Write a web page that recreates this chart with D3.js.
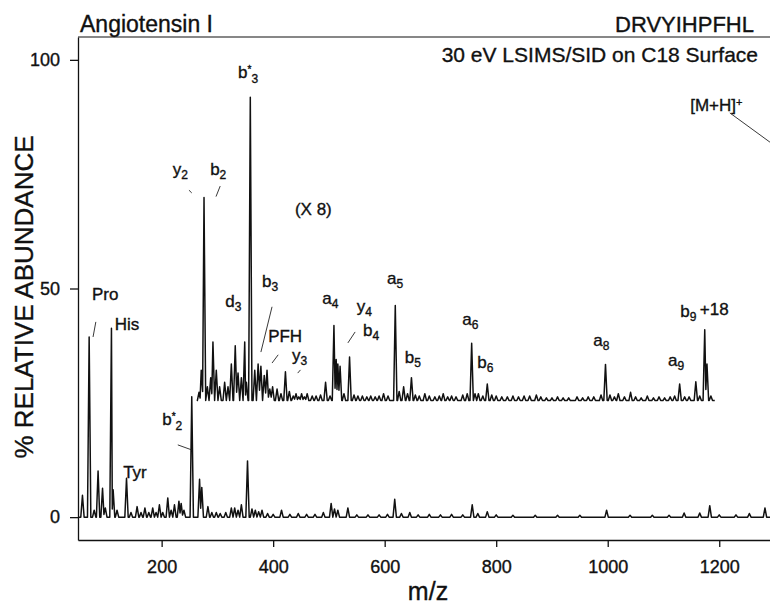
<!DOCTYPE html>
<html>
<head>
<meta charset="utf-8">
<script src="https://cdn.jsdelivr.net/npm/d3@7"></script>
<style>
  body { margin: 0; background: #fff; }
  svg text { font-family: "Liberation Sans", Arial, Helvetica, sans-serif; fill: #111; stroke: #111; stroke-width: 0.35px; }
</style>
</head>
<body>
<div id="chart"></div>
<script>
// lower trace, full scale: m/z and % relative abundance
const lowerMz = [58, 70, 79, 86, 94, 99, 110, 113, 120, 137, 145, 156, 163, 170, 177, 184, 190, 196, 202, 211, 217, 223, 231, 235, 240,
  254, 268, 272, 283, 290, 298, 305, 315, 325, 331, 337, 343, 354, 362, 368, 374, 380, 390, 400, 415, 430, 445, 460, 475, 490,
  504, 510, 516, 534, 550, 570, 590, 605, 618, 630, 645, 660, 680, 700, 720, 740, 757, 767, 784, 800, 830, 870, 910, 950,
  998, 1040, 1080, 1110, 1137, 1165, 1183, 1200, 1230, 1254, 1282];
const lowerInt = [4.8, 39.4, 1.5, 10.1, 6.3, 2, 41.3, 6, 1.5, 8.5, 1, 2.3, 1, 2, 1, 2, 1, 2.7, 1, 4.2, 1.5, 2.7, 3.5, 3, 1.5,
  26.3, 8.3, 6.5, 2.3, 1, 1, 0.8, 1, 2, 2, 1.5, 2.7, 12.3, 1.8, 1.5, 1.2, 1.5, 0.8, 0.6, 1.5, 0.6, 0.8, 0.6, 0.6, 1,
  3, 1.8, 1.5, 2, 0.5, 0.5, 0.5, 0.6, 3.9, 0.8, 1, 0.5, 0.6, 0.5, 0.6, 0.5, 2.7, 0.8, 1.2, 0.5, 0.4, 0.4, 0.4, 0.4,
  1.5, 0.4, 0.4, 0.4, 0.9, 0.9, 2.5, 0.5, 0.5, 0.8, 2];

// upper trace (X 8), heights above its own baseline
const upperBase = 25.5;
const upperRange = [265, 1192];
const upperMz = [267, 271, 276, 282, 288, 292, 298, 304, 313, 319, 325, 332, 337, 343, 349, 352, 359, 367, 373, 378, 384, 389, 394, 399,
  407, 414, 422, 429, 436, 441, 446, 451, 456, 461, 470, 477, 485, 494, 502, 509, 513, 516, 520, 527, 537, 545, 552, 560, 568,
  575, 583, 590, 598, 606, 619, 626, 634, 641, 648, 655, 662, 672, 680, 690, 698, 705, 713, 720, 728, 740, 748, 756, 762, 768,
  776, 784, 792, 800, 810, 820, 830, 840, 850, 860, 872, 880, 890, 900, 910, 920, 930, 945, 955, 965, 975, 988, 996, 1004,
  1012, 1019, 1030, 1041, 1050, 1060, 1071, 1082, 1092, 1102, 1112, 1120, 1129, 1138, 1146, 1158, 1165, 1174, 1178, 1185];
const upperInt = [1.8, 6.6, 44.4, 3, 5, 12.8, 6.6, 3, 4, 3, 8, 12, 6, 5, 12.8, 4, 66.3, 6.6, 8, 7.5, 5.5, 6.6, 2.5, 3,
  2.5, 1.5, 6.3, 2, 1, 1.5, 0.8, 1.5, 0.8, 1.5, 1, 1, 1.2, 4, 1, 16.4, 9, 8, 7.5, 1.5, 9.5, 1.2, 1, 1, 0.8,
  1, 0.8, 1, 1.5, 1, 20.8, 2, 3, 1.5, 5, 1.2, 1, 1.5, 1, 0.8, 1, 1.5, 0.8, 1, 0.8, 1.2, 1.5, 12.5, 1.5, 1.5,
  1, 3.6, 1.2, 1, 0.8, 0.8, 1, 0.8, 1, 1, 1.2, 0.8, 0.6, 0.6, 0.8, 0.6, 0.6, 0.8, 0.6, 0.8, 0.8, 1.2, 7.9, 1.2,
  0.8, 1.5, 0.8, 1.8, 0.8, 0.6, 1, 0.6, 0.8, 0.6, 0.8, 1, 3.6, 0.8, 0.8, 4.1, 1, 15.5, 8, 1];

const xTicks = [200, 400, 600, 800, 1000, 1200];
const yTicks = [0, 50, 100];

// peak annotations: text, subscript, anchor (m/z, %)
const peakLabels = [
  { t: 'Pro', mz: 75, v: 47.5 },
  { t: 'His', mz: 116, v: 40.9 },
  { t: 'Tyr', mz: 131, v: 8.6 },
  { t: 'b', sub: '2', star: true, mz: 201, v: 20.1 },
  { t: 'y', sub: '2', mz: 220, v: 74.8 },
  { t: 'b', sub: '2', mz: 287, v: 74.8 },
  { t: 'b', sub: '3', star: true, mz: 337, v: 96.0 },
  { t: '(X 8)', mz: 439, v: 66.1 },
  { t: 'd', sub: '3', mz: 314, v: 46.0 },
  { t: 'b', sub: '3', mz: 380, v: 50.3 },
  { t: 'PFH', mz: 391, v: 38.2 },
  { t: 'y', sub: '3', mz: 434, v: 34.2 },
  { t: 'a', sub: '4', mz: 488, v: 46.6 },
  { t: 'y', sub: '4', mz: 550, v: 44.9 },
  { t: 'b', sub: '4', mz: 561, v: 39.6 },
  { t: 'a', sub: '5', mz: 604, v: 51.0 },
  { t: 'b', sub: '5', mz: 636, v: 33.7 },
  { t: 'a', sub: '6', mz: 739, v: 42.0 },
  { t: 'b', sub: '6', mz: 766, v: 32.6 },
  { t: 'a', sub: '8', mz: 974, v: 37.4 },
  { t: 'a', sub: '9', mz: 1108, v: 33.0 },
  { t: 'b', sub: '9', tail: '+18', mz: 1130, v: 43.8 },
  { t: '[M+H]', sup: '+', mz: 1148, v: 88.8 }
];

// leader lines: m/z1, %1, m/z2, %2
const leaders = [
  [82, 42.7, 77, 39.4],
  [305, 72.4, 297.5, 70.1],
  [249, 71.5, 254, 70.9],
  [229, 15.8, 254, 14.7],
  [398, 46.0, 378, 36.1],
  [409, 35.5, 398, 33.7],
  [449, 32.2, 444, 31.5],
  [547, 40.5, 534, 38.1],
  [1219, 88.4, 1291, 82.0]
];

const width = 770;
const height = 604;

const x = d3.scaleLinear().domain([50, 1300]).range([78, 775]);
const y = d3.scaleLinear().domain([-5, 105]).range([540, 37]);

const svg = d3.select('#chart').append('svg')
  .attr('width', width)
  .attr('height', height);

/* build a stick-like profile from the peak table */
function profile(mzs, ints, start, end, base) {
  const hw = 3;
  const pts = [[start, base]];
  for (let i = 0; i < mzs.length; i++) {
    const m = mzs[i];
    const h = ints[i];
    let left = m - hw;
    let lv = base;
    if (i > 0 && mzs[i - 1] + hw > left) {
      left = (mzs[i - 1] + m) / 2;
      lv = base + Math.min(ints[i - 1], h) * 0.3;
    }
    let right = m + hw;
    let rv = base;
    if (i < mzs.length - 1 && mzs[i + 1] - hw < right) {
      right = (mzs[i + 1] + m) / 2;
      rv = base + Math.min(ints[i + 1], h) * 0.3;
    }
    pts.push([left, lv], [m, base + h], [right, rv]);
  }
  pts.push([end, base]);
  return pts;
}

const line = d3.line()
  .x(d => x(d[0]))
  .y(d => y(d[1]));

svg.append('path')
  .attr('d', line(profile(lowerMz, lowerInt, 50, 1300, 0)))
  .attr('fill', 'none')
  .attr('stroke', '#111')
  .attr('stroke-width', 1.5)
  .attr('stroke-linejoin', 'round');

svg.append('path')
  .attr('d', line(profile(upperMz, upperInt, upperRange[0], upperRange[1], upperBase)))
  .attr('fill', 'none')
  .attr('stroke', '#111')
  .attr('stroke-width', 1.5)
  .attr('stroke-linejoin', 'round');

/* axes */
const yAxis = d3.axisLeft(y).tickValues(yTicks).tickSize(8).tickSizeOuter(0).tickPadding(10);
const xAxis = d3.axisBottom(x).tickValues(xTicks).tickFormat(d3.format('d'))
  .tickSize(7).tickSizeOuter(0).tickPadding(13);

const gy = svg.append('g')
  .attr('transform', `translate(${x(50)},0)`)
  .call(yAxis);
const gx = svg.append('g')
  .attr('transform', `translate(0,${y(-5)})`)
  .call(xAxis);

[gx, gy].forEach(g => {
  g.selectAll('path, line').attr('stroke', '#111').attr('stroke-width', 1.3);
  g.selectAll('text')
    .style('font-size', '18px')
    .style('font-family', '"Liberation Sans", Arial, sans-serif')
    .attr('fill', '#111');
});

// top frame line
svg.append('line')
  .attr('x1', x(50)).attr('x2', width)
  .attr('y1', y(105)).attr('y2', y(105))
  .attr('stroke', '#111')
  .attr('stroke-width', 1.2);

svg.append('text')
  .attr('transform', 'translate(33,297) rotate(-90)')
  .attr('text-anchor', 'middle')
  .style('font-size', '26px')
  .text('% RELATIVE ABUNDANCE');

svg.append('text')
  .attr('x', 428)
  .attr('y', 600)
  .attr('text-anchor', 'middle')
  .style('font-size', '25px')
  .text('m/z');

svg.append('text')
  .attr('x', 80).attr('y', 32)
  .style('font-size', '23px')
  .text('Angiotensin I');

svg.append('text')
  .attr('x', 754).attr('y', 32)
  .attr('text-anchor', 'end')
  .style('font-size', '22px')
  .text('DRVYIHPFHL');

svg.append('text')
  .attr('x', 758).attr('y', 62)
  .attr('text-anchor', 'end')
  .style('font-size', '21px')
  .text('30 eV LSIMS/SID on C18 Surface');

/* peak labels */
const lab = svg.append('g').selectAll('text')
  .data(peakLabels).enter()
  .append('text')
  .attr('x', d => x(d.mz))
  .attr('y', d => y(d.v))
  .style('font-size', '17px');

lab.append('tspan').text(d => d.t);
lab.filter(d => d.star).append('tspan')
  .attr('dy', '-0.5em')
  .style('font-size', '10px')
  .text('*');
lab.filter(d => d.sup).append('tspan')
  .attr('dy', '-0.5em')
  .style('font-size', '11px')
  .text(d => d.sup);
lab.filter(d => d.sub).append('tspan')
  .attr('dy', d => d.star ? '0.85em' : '0.35em')
  .style('font-size', '12px')
  .text(d => d.sub);
lab.filter(d => d.tail).append('tspan')
  .attr('dx', '0.2em')
  .attr('dy', '-0.35em')
  .text(d => d.tail);

svg.append('g').selectAll('line')
  .data(leaders).enter()
  .append('line')
  .attr('x1', d => x(d[0])).attr('y1', d => y(d[1]))
  .attr('x2', d => x(d[2])).attr('y2', d => y(d[3]))
  .attr('stroke', '#222')
  .attr('stroke-width', 0.9);
</script>
</body>
</html>
